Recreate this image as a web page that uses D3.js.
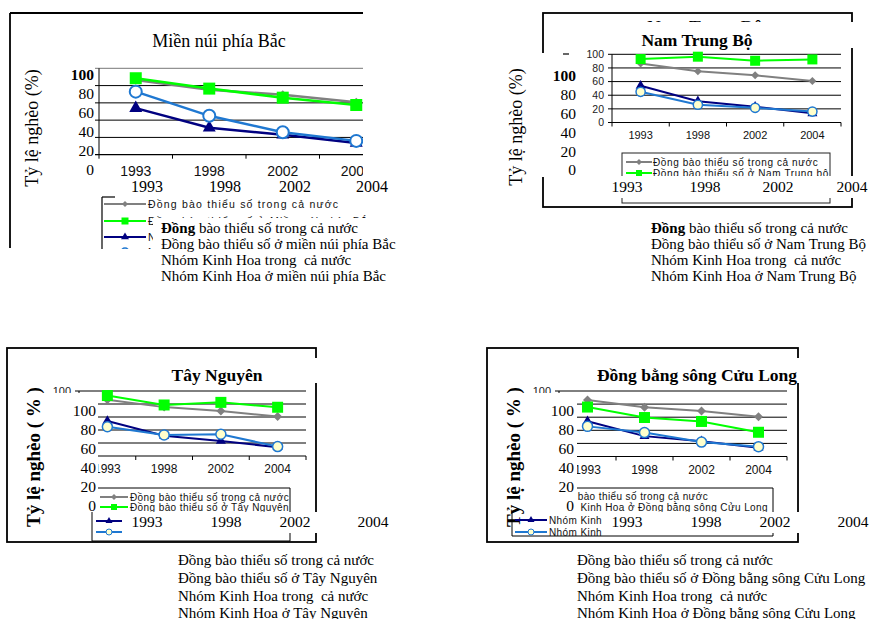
<!DOCTYPE html>
<html><head><meta charset="utf-8">
<script src="https://cdn.jsdelivr.net/npm/d3@7"></script>
<style>body{margin:0;background:#fff} text{white-space:pre}</style>
</head><body><svg id="c" width="872" height="619"></svg>
<script>
// ---------- DATA ----------
const years = ["1993","1998","2002","2004"];
const yTicks = [0,20,40,60,80,100];
const yTicksDesc = [100,80,60,40,20,0];
const minorityNational = [86.4,75.2,69.3,60.7];
const kinhHoaNational = [53.9,31.1,23.1,13.5];
const minorityMNPB = [88.5,76.5,66,57.5];
const kinhHoaMNPB = [73,45,26,16];
const minorityNTB = [93,96.5,90.5,92.5];
const kinhHoaNTB = [45,26,21.5,16];
const minorityTN = [93,78.5,82.5,75];
const kinhHoaTN = [45,32.5,33.5,14.5];
const minorityDBSCL = [75.5,59.5,53.5,37];
const kinhHoaDBSCL = [46,36.5,22,15];
const regions = ["Miền núi phía Bắc","Nam Trung Bộ","Tây Nguyên","Đồng bằng sông Cửu Long"];
const yTitle = "Tỷ lệ nghèo (%)";
const yTitleBold = "Tỷ lệ nghèo ( % )";
const legend1 = ["Đồng bào thiểu số trong cả nước","Đồng bào thiểu số ở Miền núi phía Bắc","Nhóm Kinh Hoa trong cả nước","Nhóm Kinh Hoa ở Miền núi phía Bắc"];
const legend2 = ["Đồng bào thiểu số trong cả nước","Đồng bào thiểu số ở Nam Trung bộ"];
const legend3 = ["Đồng bào thiểu số trong cả nước","Đồng bào thiểu số ở Tây Nguyên"];
const legend4 = ["Đồng bào thiểu số trong cả nước","Nhóm Kinh Hoa ở Đồng bằng sông Cửu Long","Nhóm Kinh Hoa trong cả nước","Nhóm Kinh Hoa ở Đồng bằng sông Cửu Long"];
const notes1 = ["Đồng bào thiểu số trong cả nước","Đồng bào thiểu số ở miền núi phía Bắc","Nhóm Kinh Hoa trong  cả nước","Nhóm Kinh Hoa ở miền núi phía Bắc"];
const notes2 = ["Đồng bào thiểu số trong cả nước","Đồng bào thiểu số ở Nam Trung Bộ","Nhóm Kinh Hoa trong  cả nước","Nhóm Kinh Hoa ở Nam Trung Bộ"];
const notes3 = ["Đồng bào thiểu số trong cả nước","Đồng bào thiểu số ở Tây Nguyên","Nhóm Kinh Hoa trong  cả nước","Nhóm Kinh Hoa ở Tây Nguyên"];
const notes4 = ["Đồng bào thiểu số trong cả nước","Đồng bào thiểu số ở Đồng bằng sông Cửu Long","Nhóm Kinh Hoa trong  cả nước","Nhóm Kinh Hoa ở Đồng bằng sông Cửu Long"];

// ---------- STYLE ----------
const SANS = "'Liberation Sans', Arial, sans-serif";
const SERIF = "'Liberation Serif', 'Times New Roman', serif";
const styles = [
  {color:"#808080", shape:"diamond", fill:"#808080"},
  {color:"#00ff00", shape:"square", fill:"#00ff00"},
  {color:"#000080", shape:"triangle", fill:"#000080"},
  {color:"#1f78d1", shape:"circle", fill:"#ffffcc"}
];
const svg = d3.select("#c");
svg.append("rect").attr("width",872).attr("height",619).attr("fill","#fff");
const defs = svg.append("defs");
defs.append("clipPath").attr("id","clip1").append("rect").attr("x",0).attr("y",0).attr("width",363).attr("height",619);
defs.append("clipPath").attr("id","clip1b").append("rect").attr("x",0).attr("y",0).attr("width",872).attr("height",249);
defs.append("clipPath").attr("id","clip4").append("rect").attr("x",480).attr("y",0).attr("width",122).attr("height",619);

function marker(g, cx, cy, st, m, circFill){
  let sym, size, rot=0;
  if(st.shape==="square"){sym=d3.symbolSquare; size=m.sq*m.sq;}
  else if(st.shape==="diamond"){sym=d3.symbolSquare; size=m.dia*m.dia/2; rot=45;}
  else if(st.shape==="triangle"){sym=d3.symbolTriangle; size=m.tri*m.tri*Math.sqrt(3)/4;}
  else {sym=d3.symbolCircle; size=Math.PI*m.circ*m.circ;}
  g.append("path").attr("d", d3.symbol(sym,size)())
    .attr("transform",`translate(${cx},${cy}) rotate(${rot})`)
    .attr("fill", st.shape==="circle"?circFill:st.fill)
    .attr("stroke", st.shape==="circle"?st.color:"none")
    .attr("stroke-width", st.shape==="circle"?m.cw:0);
}

function plot(g, P){
  const x = d3.scaleBand().domain(years).range([P.left,P.right]);
  const y = d3.scaleLinear().domain([0,100]).range([P.bottom,P.top]);
  const cx = d => x(d)+x.bandwidth()/2;
  g.selectAll(null).data(yTicks.filter(t=>t>0)).join("line")
    .attr("x1",P.left-4).attr("x2",P.right).attr("y1",d=>y(d)).attr("y2",d=>y(d))
    .attr("stroke",d=>d===100?P.topColor:"#000").attr("stroke-width",1);
  g.append("line").attr("x1",P.left).attr("x2",P.left).attr("y1",y(100)).attr("y2",y(0)).attr("stroke","#000");
  g.append("line").attr("x1",P.left-4).attr("x2",P.right).attr("y1",y(0)).attr("y2",y(0)).attr("stroke","#000").attr("stroke-width",1.2);
  const bounds = years.map(d=>x(d)).concat([P.right]);
  g.selectAll(null).data(bounds).join("line").attr("x1",d=>d).attr("x2",d=>d)
    .attr("y1",y(0)).attr("y2",y(0)+4).attr("stroke","#000");
  if(P.yLabels){
    g.selectAll(null).data(yTicks).join("text").attr("x",P.left-8).attr("y",d=>y(d)).attr("dy","0.35em")
      .attr("text-anchor","end").attr("font-family",SANS).attr("font-size",P.yTickSize||P.tickSize).attr("fill","#222").text(d=>d);
  }
  g.selectAll(null).data(years).join("text").attr("x",d=>cx(d)).attr("y",P.xLabelY).attr("dy","0.35em")
    .attr("text-anchor","middle").attr("font-family",SANS).attr("font-size",P.tickSize).attr("fill","#111").text(d=>d);
  const line = d3.line().x((d,i)=>cx(years[i])).y(d=>y(d));
  P.series.forEach((s,k)=>{
    const st=styles[k];
    g.append("path").attr("d",line(s)).attr("fill","none").attr("stroke",st.color).attr("stroke-width",P.lw);
    s.forEach((v,i)=>marker(g,cx(years[i]),y(v),st,P.m,P.circFill));
  });
}

function legendEntry(g, L, k, y, text, tg){
  const st=styles[k];
  g.append("line").attr("x1",L.x1).attr("x2",L.x2).attr("y1",y).attr("y2",y).attr("stroke",st.color).attr("stroke-width",L.lw);
  marker(g,(L.x1+L.x2)/2,y,st,L.m,L.circFill);
  if(text) (tg||g).append("text").attr("x",L.tx).attr("y",y).attr("dy","0.35em").attr("font-family",SANS)
    .attr("font-size",L.fs).attr("letter-spacing",L.ls).attr("fill","#111").text(text);
}
function whiteRect(g,x,y,w,h){ g.append("rect").attr("x",x).attr("y",y).attr("width",w).attr("height",h).attr("fill","#fff"); }
function serifYLabels(g, right, y0, step, size, boldTop){
  g.selectAll(null).data(yTicksDesc).join("text").attr("x",right).attr("y",(d,i)=>y0+i*step).attr("dy","0.35em")
    .attr("text-anchor","end").attr("font-family",SERIF).attr("font-size",size)
    .attr("font-weight",(d,i)=>boldTop&&i===0?"bold":"normal").text(d=>d);
}
function serifYears(g, xs, y, size){
  g.selectAll(null).data(years).join("text").attr("x",(d,i)=>xs[i]).attr("y",y).attr("dy","0.35em")
    .attr("text-anchor","middle").attr("font-family",SERIF).attr("font-size",size).text(d=>d);
}
function yTitleText(g, x, y, text, bold, size){
  g.append("text").attr("transform",`translate(${x},${y}) rotate(-90)`).attr("text-anchor","middle").attr("dy","0.35em")
    .attr("font-family",SERIF).attr("font-size",size).attr("font-weight",bold?"bold":"normal").text(text);
}
function notes(g, x, ys, lines, boldFirst){
  lines.forEach((t,i)=>{
    const tx=g.append("text").attr("x",x).attr("y",ys[i]).attr("dy","0.35em").attr("font-family",SERIF).attr("font-size",15);
    if(boldFirst&&i===0){const w=t.split(" ")[0]; tx.append("tspan").attr("font-weight","bold").text(w); tx.append("tspan").text(t.slice(w.length));}
    else tx.text(t);
  });
}
function hline(g,x1,x2,y,w){g.append("line").attr("x1",x1).attr("x2",x2).attr("y1",y).attr("y2",y).attr("stroke","#000").attr("stroke-width",w||1.5);}
function vline(g,x,y1,y2,w){g.append("line").attr("x1",x).attr("x2",x).attr("y1",y1).attr("y2",y2).attr("stroke","#000").attr("stroke-width",w||1.5);}

// ---------- PANEL 1 : Miền núi phía Bắc ----------
{
  const g=svg.append("g");
  vline(g,10,13,248,1.8); hline(g,10,363,13,1.8);
  g.append("text").attr("x",219).attr("y",41).attr("dy","0.35em").attr("text-anchor","middle")
    .attr("font-family",SERIF).attr("font-size",18).text(regions[0]);
  yTitleText(g,32,128,yTitle,false,18);
  const gc=g.append("g").attr("clip-path","url(#clip1)");
  plot(gc,{left:99,right:393,top:68.3,bottom:154.7,topColor:"#777",yLabels:false,tickSize:14,xLabelY:171,lw:2.5,
    m:{sq:12,tri:13,circ:6,dia:9,cw:2},circFill:"#fff",
    series:[minorityNational,minorityMNPB,kinhHoaNational,kinhHoaMNPB]});
  serifYLabels(g,94,75,19,15.5,true);
  serifYears(g,[147,225,295,372],186,16);
  const gl=g.append("g").attr("clip-path","url(#clip1b)");
  vline(gl,102,197,250,1.2); hline(gl,102,115,197,1.2);
  const L={x1:104,x2:146,tx:148,lw:2,fs:10.5,ls:1.2,m:{sq:7,tri:8,circ:4,dia:6,cw:1.5},circFill:"#fff"};
  [204,221,237,252].forEach((yy,k)=>legendEntry(gl,L,k,yy,legend1[k]));
  whiteRect(g,153,218,280,80);
  notes(g,161,[228,244,260,276],notes1,true);
}

// ---------- PANEL 2 : Nam Trung Bộ ----------
{
  const g=svg.append("g");
  g.append("rect").attr("x",543).attr("y",13).attr("width",309).attr("height",194).attr("fill","none").attr("stroke","#000").attr("stroke-width",1.8);
  g.append("text").attr("x",705).attr("y",32).attr("text-anchor","middle").attr("font-family",SERIF).attr("font-size",16)
    .attr("textLength",116).attr("lengthAdjust","spacingAndGlyphs").text(regions[1]);
  whiteRect(g,560,22,298,26);
  g.append("text").attr("x",697).attr("y",40).attr("dy","0.35em").attr("text-anchor","middle")
    .attr("font-family",SERIF).attr("font-size",17.5).attr("font-weight","bold").text(regions[1]);
  whiteRect(g,541,53,308,124);
  hline(g,563,569,54,1.2);
  serifYLabels(g,576,76,18.8,15.5,true);
  yTitleText(g,516,127,yTitle,false,18);
  plot(g,{left:612,right:841,top:54.3,bottom:122.5,topColor:"#000",yLabels:true,tickSize:11,yTickSize:10.5,xLabelY:135,lw:2,
    m:{sq:10,tri:10,circ:4.6,dia:8,cw:1.5},circFill:"#ffffcc",
    series:[minorityNational,minorityNTB,kinhHoaNational,kinhHoaNTB]});
  g.append("rect").attr("x",622).attr("y",153).attr("width",208).attr("height",50).attr("fill","none").attr("stroke","#222").attr("stroke-width",1);
  const L={x1:626,x2:652,tx:653,lw:2,fs:10,ls:0.6,m:{sq:6,tri:7,circ:3,dia:6,cw:1},circFill:"#ffffcc"};
  [162,173].forEach((yy,k)=>legendEntry(g,L,k,yy,legend2[k]));
  whiteRect(g,545,176,325,22);
  serifYears(g,[627,705,778,852],187,15.5);
  notes(g,651,[228,244,260,276],notes2,true);
}

// ---------- PANEL 3 : Tây Nguyên ----------
{
  const g=svg.append("g");
  g.append("rect").attr("x",7).attr("y",348).attr("width",309).attr("height",194).attr("fill","none").attr("stroke","#000").attr("stroke-width",1.8);
  g.append("text").attr("x",158).attr("y",369).attr("text-anchor","middle").attr("font-family",SERIF).attr("font-size",14)
    .attr("textLength",63).attr("lengthAdjust","spacingAndGlyphs").text(regions[2]);
  plot(g,{left:79,right:306,top:391,bottom:456,topColor:"#000",yLabels:true,tickSize:12,yTickSize:11,xLabelY:469,lw:2,
    m:{sq:11,tri:10,circ:5,dia:9,cw:1.5},circFill:"#ffffcc",
    series:[minorityNational,minorityTN,kinhHoaNational,kinhHoaTN]});
  whiteRect(g,15,358,315,25);
  g.append("text").attr("x",217).attr("y",375).attr("dy","0.35em").attr("text-anchor","middle")
    .attr("font-family",SERIF).attr("font-size",17.5).attr("font-weight","bold").text(regions[2]);
  hline(g,92,290,488,1); vline(g,290,488,541,1); hline(g,92,290,541,1); vline(g,92,488,541,1);
  const L={x1:100,x2:128,tx:130,lw:2,fs:10,ls:0.4,m:{sq:6,tri:7,circ:3,dia:6,cw:1},circFill:"#ffffcc"};
  [497,507].forEach((yy,k)=>legendEntry(g,L,k,yy,legend3[k]));
  whiteRect(g,40,393,58,119);
  serifYLabels(g,96,411,19,15.5,false);
  yTitleText(g,33,457,yTitleBold,true,19);
  const L2={x1:96,x2:122,tx:124,lw:2,fs:10,ls:0.4,m:{sq:6,tri:7,circ:3,dia:6,cw:1},circFill:"#ffffcc"};
  [521,532].forEach((yy,i)=>legendEntry(g,L2,i+2,yy,null));
  whiteRect(g,123,512,207,21);
  serifYears(g,[147,226,295,373],522,15.5);
  notes(g,178,[560,578,596,613],notes3,false);
}

// ---------- PANEL 4 : Đồng bằng sông Cửu Long ----------
{
  const g=svg.append("g");
  g.append("rect").attr("x",487).attr("y",348).attr("width",311).attr("height",194).attr("fill","none").attr("stroke","#000").attr("stroke-width",1.8);
  g.append("text").attr("x",633).attr("y",369).attr("text-anchor","middle").attr("font-family",SERIF).attr("font-size",14)
    .attr("textLength",153).attr("lengthAdjust","spacingAndGlyphs").text(regions[3]);
  plot(g,{left:559,right:787,top:391,bottom:456.5,topColor:"#000",yLabels:true,tickSize:12,yTickSize:11,xLabelY:470,lw:2,
    m:{sq:11,tri:10,circ:5,dia:9,cw:1.5},circFill:"#ffffcc",
    series:[minorityNational,minorityDBSCL,kinhHoaNational,kinhHoaDBSCL]});
  whiteRect(g,495,358,317,25);
  g.append("text").attr("x",697).attr("y",375).attr("dy","0.35em").attr("text-anchor","middle")
    .attr("font-family",SERIF).attr("font-size",17.5).attr("font-weight","bold").text(regions[3]);
  hline(g,512,773,488,1); vline(g,773,488,536,1); hline(g,512,773,536,1); vline(g,512,488,536,1);
  const L={x1:515,x2:547,tx:549,lw:2,fs:10,ls:0.4,m:{sq:6,tri:7,circ:3,dia:6,cw:1},circFill:"#ffffcc"};
  legendEntry(g,L,0,496,legend4[0]);
  legendEntry(g,L,3,507,legend4[1]);
  whiteRect(g,505,393,72,119);
  serifYLabels(g,574,411,19,15.5,false);
  yTitleText(g,513,457,yTitleBold,true,19);
  const tclip=g.append("g").attr("clip-path","url(#clip4)");
  [520,532].forEach((yy,i)=>legendEntry(g,L,i+2,yy,legend4[i+2],tclip));
  whiteRect(g,602,512,210,21);
  serifYears(g,[627,706,775,853],522,15.5);
  notes(g,577,[560,578,596,613],notes4,false);
}
</script></body></html>
